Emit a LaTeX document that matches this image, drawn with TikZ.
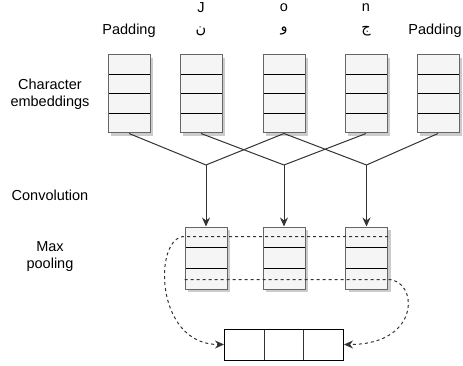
\documentclass[tikz,border=0pt]{standalone}
\usepackage{fontspec}
\setmainfont{Liberation Sans}
\newfontfamily\arabicfont[Script=Arabic]{DejaVu Sans}
\TeXXeTstate=1
\usetikzlibrary{shapes,arrows.meta,shadows}
\definecolor{boxfill}{HTML}{F5F5F5}
\definecolor{boxline}{HTML}{666666}
\definecolor{wire}{HTML}{333333}
\tikzstyle{cell} = [rectangle, draw=boxline, fill=boxfill, line width=1pt, inner sep=0pt,
    minimum width=42pt, drop shadow={shadow xshift=3pt, shadow yshift=-3pt, fill=black, opacity=0.2}]
\tikzstyle{emb} = [cell, minimum height=78pt, path picture={
    \foreach \k in {1,2,3}
      \draw[black, line width=1pt] ([yshift=-\k*19.5pt]path picture bounding box.north west) -- ([yshift=-\k*19.5pt]path picture bounding box.north east);}]
\tikzstyle{pool} = [cell, minimum height=62pt, path picture={
    \foreach \k in {1,2}
      \draw[black, line width=1pt] ([yshift=-\k*20.6pt]path picture bounding box.north west) -- ([yshift=-\k*20.6pt]path picture bounding box.north east);}]
\tikzstyle{result} = [rectangle, draw=black, fill=white, line width=1pt, inner sep=0pt,
    minimum width=119pt, minimum height=31pt, path picture={
    \foreach \k in {1,2}
      \draw[wire, line width=1pt] ([xshift=\k*39.7pt]path picture bounding box.north west) -- ([xshift=\k*39.7pt]path picture bounding box.south west);}]
\tikzstyle{txt} = [font=\fontsize{14.5}{17}\selectfont, align=center, inner sep=0pt]
\tikzstyle{line} = [draw=wire, line width=1pt]
\tikzstyle{conv} = [line, -{Stealth[length=9pt, width=8pt]}]
\tikzstyle{route} = [draw=wire, line width=1pt, dash pattern=on 3pt off 3pt, -{Stealth[length=9pt, width=8pt]}]

\begin{document}
\begin{tikzpicture}[x=1pt, y=-1pt, node distance=72pt]

	\useasboundingbox (0,0) rectangle (463,366);

	% character embeddings
	\node [emb] (e1) at (129,94) {};
	\node [emb, right of=e1] (e2) {};
	\node [emb, node distance=83pt, right of=e2] (e3) {};
	\node [emb, node distance=82pt, right of=e3] (e4) {};
	\node [emb, right of=e4] (e5) {};

	\node [txt, node distance=63pt, above of=e1] (pad1) {Padding};
	\node [txt, node distance=63pt, above of=e2] (ch1) {\arabicfont\beginR ن\endR};
	\node [txt, node distance=63pt, above of=e3] (ch2) {\arabicfont\beginR و\endR};
	\node [txt, node distance=63pt, above of=e4] (ch3) {\arabicfont\beginR ج\endR};
	\node [txt, node distance=63pt, above of=e5, xshift=-3pt] (pad2) {Padding};
	\node [txt, node distance=23pt, above of=ch1] (lt1) {J};
	\node [txt, node distance=23pt, above of=ch2] (lt2) {o};
	\node [txt, node distance=23pt, above of=ch3] (lt3) {n};

	% max pooling
	\node [pool] (p1) at (206,258) {};
	\node [pool, node distance=78pt, right of=p1] (p2) {};
	\node [pool, node distance=82.5pt, right of=p2] (p3) {};

	\coordinate [node distance=93pt, above of=p1] (j1);
	\coordinate [node distance=93pt, above of=p2] (j2);
	\coordinate [node distance=93pt, above of=p3] (j3);

	\node [result, node distance=86.5pt, below of=p2] (r) {};

	% row labels
	\node [txt, node distance=79pt, left of=e1] (chars) {Character\\embeddings};
	\node [txt, node distance=101pt, below of=chars] (convo) {Convolution};
	\node [txt, node distance=61.5pt, below of=convo] (maxp) {Max\\pooling};

	% convolution
	\path [line] (e1.south) -- (j1);
	\path [line] (e3.south) -- (j1);
	\path [line] (e2.south) -- (j2);
	\path [line] (e4.south) -- (j2);
	\path [line] (e3.south) -- (j3);
	\path [line] (e5.south) -- (j3);

	\path [conv] (j1) -- (p1);
	\path [conv] (j2) -- (p2);
	\path [conv] (j3) -- (p3);

	% pooled rows into result
	\path [route] ([yshift=-10pt]p3.north east) -- ([yshift=-10pt]p1.north west)
		.. controls +(-31,0) and +(-70,0) .. (r.west);
	\path [route] ([yshift=10pt]p1.south west) -- ([yshift=10pt]p3.south east)
		.. controls +(30,0) and +(78,0) .. (r.east);
\end{tikzpicture}
\end{document}
